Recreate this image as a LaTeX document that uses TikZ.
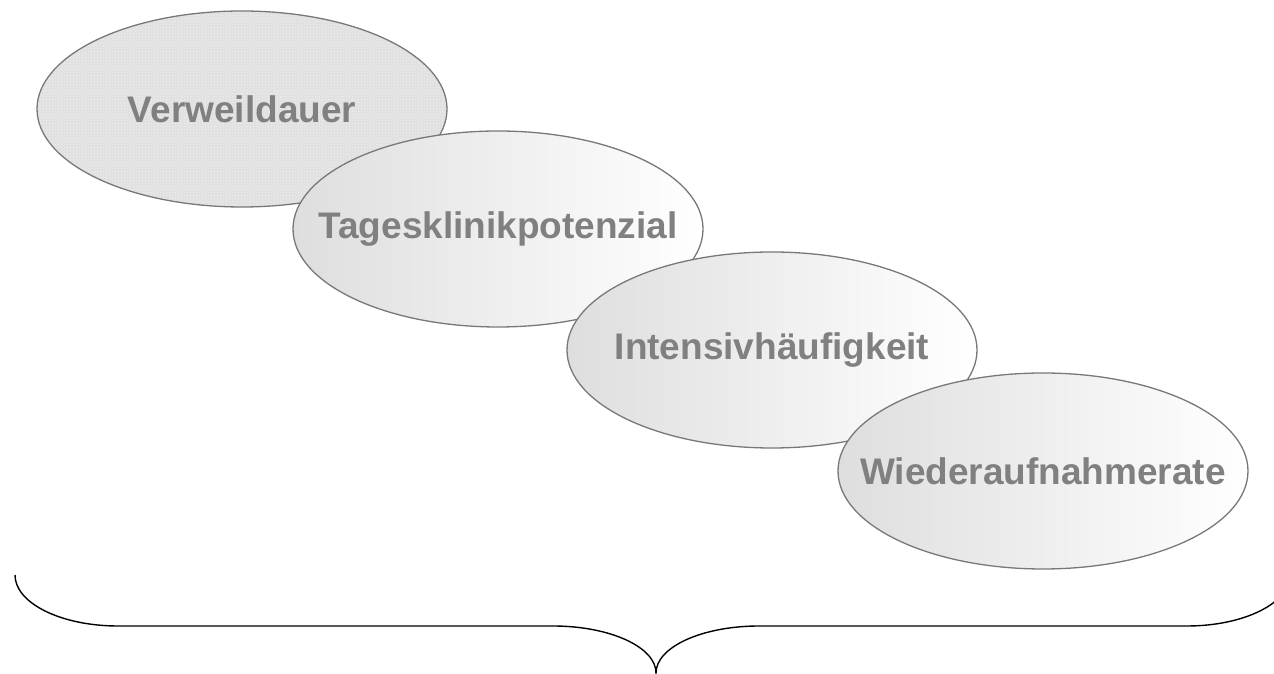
\documentclass[tikz,border=0pt]{standalone}
\usepackage{fontspec}
\setmainfont{Liberation Sans}
\usetikzlibrary{shapes.geometric,patterns}
\definecolor{txtgray}{RGB}{128,128,128}
\definecolor{edgegray}{RGB}{120,120,120}
\definecolor{shadeL}{RGB}{222,222,222}
\definecolor{dotbase}{RGB}{224,224,224}
\tikzset{
  ovaltext/.style={text=txtgray, font=\fontsize{37}{40}\selectfont\bfseries, inner sep=0pt},
  oval/.style={ellipse, draw=edgegray, line width=1.3pt, minimum width=410pt, minimum height=196pt,
    inner sep=0pt},
  shadedoval/.style={oval, left color=shadeL, right color=white},
  dottedoval/.style={oval, preaction={fill=dotbase}, pattern=crosshatch dots, pattern color=white!60!dotbase},
  bracestyle/.style={draw=black, line width=1.4pt}
}
\begin{document}
\begin{tikzpicture}[x=1pt,y=1pt]
\useasboundingbox (0,0) rectangle (1274,674);
\begin{scope}
\clip (0,0) rectangle (1274,674);
\node[dottedoval, label={[ovaltext]center:Verweildauer}] (e1) at (242,565) {};
\node[shadedoval, label={[ovaltext]center:Tagesklinikpotenzial}] (e2) at (498,445) {};
\node[shadedoval, label={[ovaltext]center:Intensivhäufigkeit}] (e3) at (772,324) {};
\node[shadedoval, label={[ovaltext]center:Wiederaufnahmerate}] (e4) at (1043,203) {};
\coordinate (bl) at (15,99);
\draw[bracestyle] (bl) arc[start angle=180, end angle=270, x radius=103, y radius=51]
  -- (553,48) arc[start angle=90, end angle=0, x radius=103, y radius=47]
  coordinate (tip)
  arc[start angle=180, end angle=90, x radius=103, y radius=47]
  -- (1187,48) arc[start angle=270, end angle=360, x radius=103, y radius=51] coordinate (br);
\end{scope}
\end{tikzpicture}
\end{document}
